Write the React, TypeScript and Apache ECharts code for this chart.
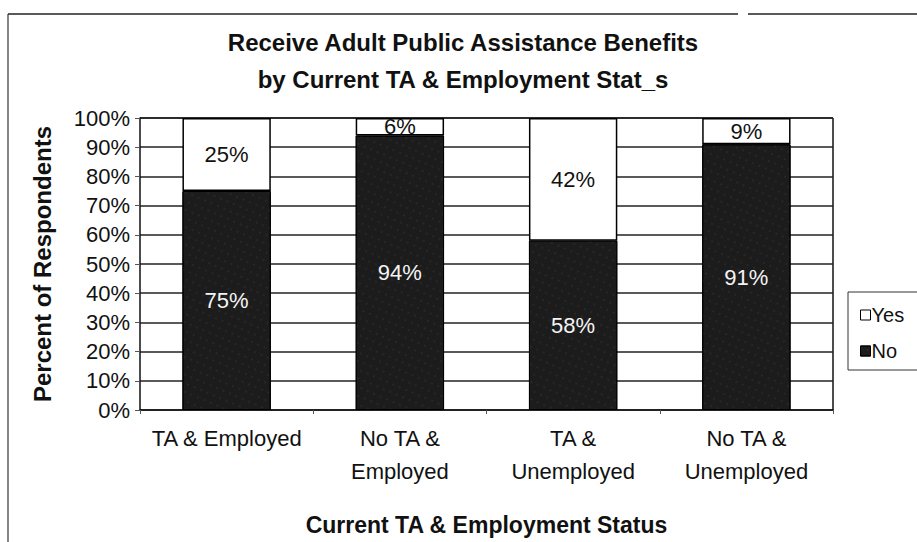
import React, { useEffect, useRef } from "react";
import * as echarts from "echarts";

const categories = ["TA & Employed", "No TA &\nEmployed", "TA &\nUnemployed", "No TA &\nUnemployed"];
const noValues = [75, 94, 58, 91];
const yesValues = [25, 6, 42, 9];
const yTicks = [0, 10, 20, 30, 40, 50, 60, 70, 80, 90, 100];

const FONT = "'Liberation Sans', Arial, Helvetica, sans-serif";

export default function App() {
  const ref = useRef<HTMLDivElement>(null);
  useEffect(() => {
    if (!ref.current) return;
    const chart = echarts.init(ref.current, undefined, { renderer: "svg" });
    chart.setOption({
      animation: false,
      backgroundColor: "#ffffff",
      textStyle: { fontFamily: FONT, color: "#111" },
      title: {
        text: "Receive Adult Public Assistance Benefits\nby Current TA & Employment Stat_s",
        left: 458,
        textAlign: "center",
        top: 19,
        textStyle: { fontFamily: FONT, fontSize: 24, fontWeight: "bold", lineHeight: 37, color: "#111" },
      },
      legend: {
        orient: "vertical",
        left: 855,
        top: 300,
        itemWidth: 10,
        itemHeight: 10,
        itemGap: 16,
        icon: "rect",
        data: ["Yes", "No"],
        textStyle: { fontFamily: FONT, fontSize: 20, color: "#111", padding: [0, 0, 0, -4] },
        itemStyle: { borderColor: "#000", borderWidth: 1 },
      },
      grid: { left: 140, right: 84, top: 118, bottom: 132, containLabel: false, show: false },
      xAxis: {
        type: "category",
        data: categories,
        name: "Current TA & Employment Status",
        nameLocation: "middle",
        nameGap: 103,
        nameTextStyle: { fontFamily: FONT, fontSize: 23, fontWeight: "bold", color: "#111" },
        axisLine: { show: true, lineStyle: { color: "#111", width: 1.5 } },
        axisTick: { show: true, length: 4, lineStyle: { color: "#555" } },
        axisLabel: {
          interval: 0,
          hideOverlap: false,
          fontFamily: FONT,
          fontSize: 22,
          color: "#111",
          lineHeight: 33,
          margin: 12,
        },
      },
      yAxis: {
        type: "value",
        min: 0,
        max: 100,
        interval: 10,
        name: "Percent of Respondents",
        nameLocation: "middle",
        nameGap: 86,
        nameTextStyle: { fontFamily: FONT, fontSize: 24, fontWeight: "bold", color: "#111" },
        axisLine: { show: true, lineStyle: { color: "#111", width: 1.5 } },
        axisTick: { show: true, length: 5, lineStyle: { color: "#555" } },
        axisLabel: {
          fontFamily: FONT,
          fontSize: 22,
          color: "#111",
          margin: 10,
          formatter: (v: number) => (yTicks.includes(v) ? v + "%" : ""),
        },
        splitLine: { show: true, lineStyle: { color: "#222", width: 1.5 } },
      },
      series: [
        {
          name: "No",
          type: "bar",
          stack: "total",
          barWidth: "51%",
          data: noValues,
          itemStyle: {
            color: "#1c1c1c",
            borderColor: "#000",
            borderWidth: 1,
            decal: {
              symbol: "rect",
              symbolSize: 0.5,
              color: "rgba(255,255,255,0.18)",
              dashArrayX: [2, 5],
              dashArrayY: [2, 6],
              rotation: 0.4,
            },
          },
          label: {
            show: true,
            position: "inside",
            formatter: "{c}%",
            color: "#f4f4f4",
            fontFamily: FONT,
            fontSize: 22,
          },
        },
        {
          name: "Yes",
          type: "bar",
          stack: "total",
          data: yesValues,
          itemStyle: { color: "#ffffff", borderColor: "#000", borderWidth: 1.5 },
          label: {
            show: true,
            position: "inside",
            formatter: "{c}%",
            color: "#111",
            fontFamily: FONT,
            fontSize: 22,
          },
        },
      ],
      graphic: [
        { type: "line", shape: { x1: 8, y1: 14, x2: 738, y2: 14 }, style: { stroke: "#222", lineWidth: 1.5 } },
        { type: "line", shape: { x1: 748, y1: 14, x2: 917, y2: 14 }, style: { stroke: "#222", lineWidth: 1.5 } },
        { type: "line", shape: { x1: 8, y1: 14, x2: 8, y2: 542 }, style: { stroke: "#333", lineWidth: 1.2 } },
        { type: "line", shape: { x1: 140, y1: 118, x2: 833, y2: 118 }, style: { stroke: "#111", lineWidth: 1.5 } },
        { type: "line", shape: { x1: 833, y1: 118, x2: 833, y2: 410 }, style: { stroke: "#111", lineWidth: 1.5 } },
        { type: "polyline", shape: { points: [[917, 292], [848, 292], [848, 370], [917, 370]] }, style: { stroke: "#333", fill: "none", lineWidth: 1 } },
      ],
    });
    return () => chart.dispose();
  }, []);
  return <div ref={ref} style={{ width: 917, height: 542, position: "absolute", left: 0, top: 0 }} />;
}
